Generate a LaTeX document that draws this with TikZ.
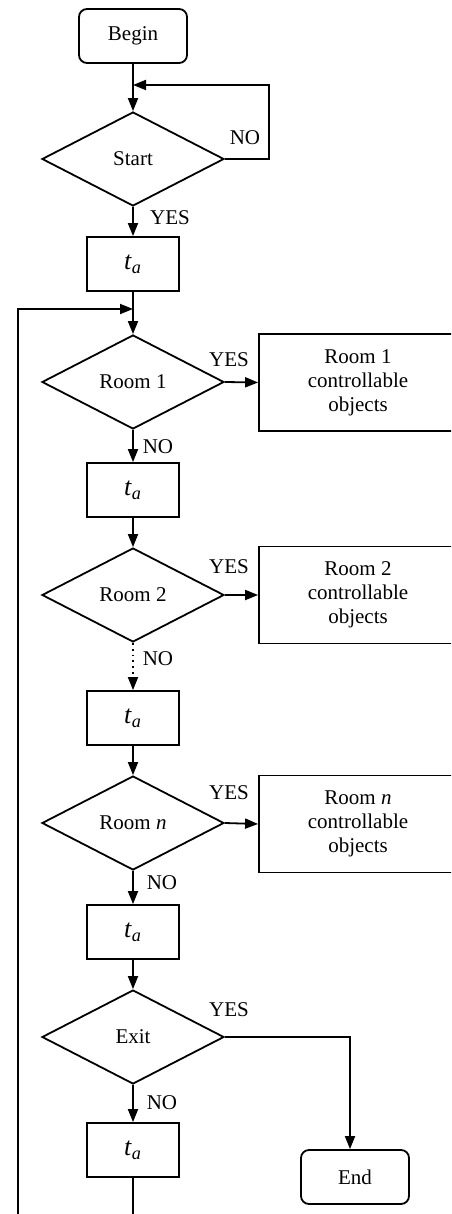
\documentclass[tikz,border=0pt]{standalone}
\usepackage{fontspec}
\setmainfont{Liberation Serif}
\usetikzlibrary{shapes.geometric}
\usetikzlibrary{arrows.meta}
\tikzstyle{line}=[line width=0.9pt]
\tikzstyle{terminal}=[draw, line, rounded corners=4pt, minimum width=54pt, minimum height=27pt, font=\fontsize{10.5}{12}\selectfont]
\tikzstyle{delay}=[draw, line, minimum width=46pt, minimum height=27pt, font=\fontsize{13}{15}\selectfont]
\tikzstyle{decision}=[draw, line, diamond, inner sep=0pt, minimum width=91pt, minimum height=47pt, font=\fontsize{10.5}{12}\selectfont]
\tikzstyle{objects}=[draw, line, minimum width=99pt, minimum height=48.5pt, align=center, font=\fontsize{10.5}{12}\selectfont]
\tikzstyle{answer}=[font=\fontsize{10.5}{12}\selectfont, inner sep=0pt]
\tikzstyle{flow}=[line, -{Triangle[length=6.5pt, width=5pt]}]
\newcommand{\ta}{\textit{t}\textsubscript{\textit{a}}}

\begin{document}
\begin{tikzpicture}[x=0.5pt, y=-0.5pt]
      \useasboundingbox (0, 0) rectangle (451, 1214);
      \clip (0, 0) rectangle (451, 1214);
      \node[terminal] (begin) at (133, 36) {Begin};
      \node[decision] (start) at (133, 159) {Start};
      \node[delay] (wait1) at (133, 264) {\ta};
      \node[decision] (room1) at (133, 382) {Room 1};
      \node[objects] (obj1) at (358, 382.5) {Room 1\\controllable\\objects};
      \node[delay] (wait2) at (133, 490) {\ta};
      \node[decision] (room2) at (133, 595) {Room 2};
      \node[objects] (obj2) at (358, 595) {Room 2\\controllable\\objects};
      \node[delay] (wait3) at (133, 718) {\ta};
      \node[decision] (roomn) at (133, 823) {Room \textit{n}};
      \node[objects] (objn) at (358, 824) {Room \textit{n}\\controllable\\objects};
      \node[delay] (wait4) at (133, 932) {\ta};
      \node[decision] (exit) at (133, 1037) {Exit};
      \node[delay] (wait5) at (133, 1150) {\ta};
      \node[terminal] (end) at (355, 1177) {End};
      \coordinate (retry) at (269, 85);
      \coordinate (back) at (18, 1230);
      \coordinate (merge) at (133, 309);
      % answers
      \node[answer] (startno) at (245, 138) {NO};
      \node[answer] (startyes) at (170, 218) {YES};
      \node[answer] (room1yes) at (229, 360) {YES};
      \node[answer] (room1no) at (158, 447) {NO};
      \node[answer] (room2yes) at (229, 567) {YES};
      \node[answer] (room2no) at (158, 659) {NO};
      \node[answer] (roomnyes) at (229, 793) {YES};
      \node[answer] (roomnno) at (162, 883) {NO};
      \node[answer] (exityes) at (229, 1010) {YES};
      \node[answer] (exitno) at (162, 1103) {NO};
      % flow
      \draw[flow] (begin) -- (start);
      \draw[flow] (start.east) -| (retry) -- (begin |- retry);
      \draw[flow] (start) -- (wait1);
      \draw[flow] (wait1) -- (room1);
      \draw[flow] (room1.east) -- (obj1.west);
      \draw[flow] (room1) -- (wait2);
      \draw[flow] (wait2) -- (room2);
      \draw[flow] (room2.east) -- (obj2.west);
      \draw[flow, dotted] (room2) -- (wait3);
      \draw[flow] (wait3) -- (roomn);
      \draw[flow] (roomn.east) -- (objn.west);
      \draw[flow] (roomn) -- (wait4);
      \draw[flow] (wait4) -- (exit);
      \draw[flow] (exit.east) -| ([xshift=-2.5pt]end.north);
      \draw[flow] (exit) -- (wait5);
      \draw[flow] (wait5.south) |- (back) |- (merge);
    \end{tikzpicture}
\end{document}
